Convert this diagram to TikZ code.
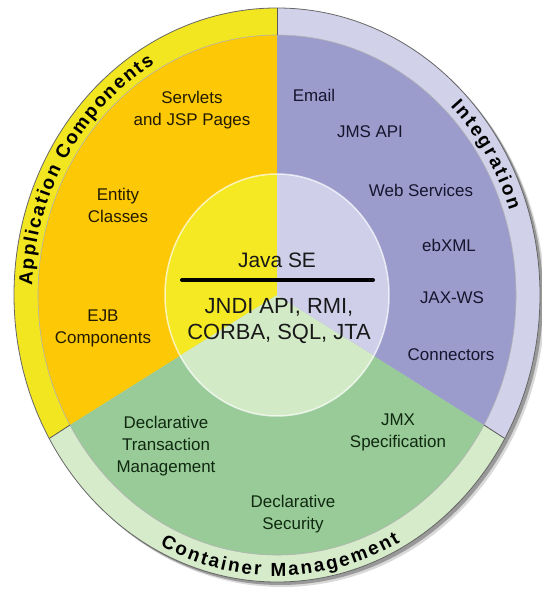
\documentclass[tikz,border=0pt]{standalone}
\usepackage{fontspec}
\setmainfont{Liberation Sans}
\usetikzlibrary{decorations.text}
\definecolor{ringY}{HTML}{F2E620}
\definecolor{secY}{HTML}{FDC805}
\definecolor{cenY}{HTML}{F4E922}
\definecolor{ringP}{HTML}{D1D1EA}
\definecolor{secP}{HTML}{9B9CCC}
\definecolor{cenP}{HTML}{CFCFEA}
\definecolor{ringG}{HTML}{D5EBCA}
\definecolor{secG}{HTML}{98CB98}
\definecolor{cenG}{HTML}{D3EAC6}
\definecolor{txtY}{HTML}{221B02}
\definecolor{txtP}{HTML}{15152E}
\definecolor{txtG}{HTML}{102810}
\newcommand\curvefont{\fontsize{19}{19}\selectfont\bfseries}
\tikzset{
  lbl/.style={align=center, font=\fontsize{17}{22}\selectfont, inner sep=0pt},
  lblY/.style={lbl, text=txtY},
  lblP/.style={lbl, text=txtP},
  lblG/.style={lbl, text=txtG},
  cen/.style={align=center, font=\fontsize{22}{27}\selectfont, inner sep=0pt, text=black!90},
  divider/.style={black!65, line width=0.8},
  curved/.style={decorate, decoration={text along path, text align=fit to path, text color=black, text={|\curvefont|#1}}}
}
\begin{document}
\begin{tikzpicture}[x=1bp,y=1bp]
\useasboundingbox (0,0) rectangle (542,589);
\coordinate (C) at (277,294);
% shadow
\fill[black!15] ([shift={(5,-5)}]C) ellipse [x radius=263, y radius=287];
\fill[black!40] ([shift={(3,-3)}]C) ellipse [x radius=263, y radius=287];
% outer ring
\fill[ringY] (C) -- ([shift={(90:263 and 287)}]C) arc[start angle=90,end angle=210,x radius=263,y radius=287] -- cycle;
\fill[ringG] (C) -- ([shift={(210:263 and 287)}]C) arc[start angle=210,end angle=330,x radius=263,y radius=287] -- cycle;
\fill[ringP] (C) -- ([shift={(330:263 and 287)}]C) arc[start angle=330,end angle=450,x radius=263,y radius=287] -- cycle;
% sectors
\fill[secY] (C) -- ([shift={(90:239 and 260)}]C) arc[start angle=90,end angle=210,x radius=239,y radius=260] -- cycle;
\fill[secG] (C) -- ([shift={(210:239 and 260)}]C) arc[start angle=210,end angle=330,x radius=239,y radius=260] -- cycle;
\fill[secP] (C) -- ([shift={(330:239 and 260)}]C) arc[start angle=330,end angle=450,x radius=239,y radius=260] -- cycle;
\draw[black!30, line width=0.6] (C) ellipse [x radius=239, y radius=260];
% centre
\fill[cenY] (C) -- ([shift={(90:112 and 121)}]C) arc[start angle=90,end angle=210,x radius=112,y radius=121] -- cycle;
\fill[cenG] (C) -- ([shift={(210:112 and 121)}]C) arc[start angle=210,end angle=330,x radius=112,y radius=121] -- cycle;
\fill[cenP] (C) -- ([shift={(330:112 and 121)}]C) arc[start angle=330,end angle=450,x radius=112,y radius=121] -- cycle;
\draw[white, opacity=0.7, line width=1.5] (C) ellipse [x radius=112, y radius=121];
% ring dividers and outline
\foreach \a in {90,210,330} {
  \coordinate (in\a) at ([shift={(\a:239 and 260)}]C);
  \coordinate (out\a) at ([shift={(\a:263 and 287)}]C);
  \draw[divider] (in\a) -- (out\a);
}
\draw[black!60, line width=0.8] (C) ellipse [x radius=263, y radius=287];
% curved labels
\path[curved={Application Components}] ([shift={(178:245 and 267)}]C) arc[start angle=178,end angle=120,x radius=245,y radius=267];
\path[curved={Integration}] ([shift={(45:245 and 267)}]C) arc[start angle=45,end angle=18.5,x radius=245,y radius=267];
\path[curved={Container Management}] ([shift={(243:258 and 281)}]C) arc[start angle=243,end angle=298.5,x radius=258,y radius=281];
% centre text
\node[cen, font=\fontsize{21}{25}\selectfont] (javase) at (277,329) {Java SE};
\coordinate (barL) at (182,309);
\coordinate (barR) at (373,309);
\draw[line width=4, line cap=round, black] (barL) -- (barR);
\node[cen] (apis) at (279,268) {JNDI API, RMI,\\CORBA, SQL, JTA};
% yellow sector
\node[lblY] (servlets) at (192,479) {Servlets\\and JSP Pages};
\node[lblY] (entity) at (118,384) {Entity\\Classes};
\node[lblY] (ejb) at (103,261) {EJB\\Components};
% purple sector
\node[lblP] (email) at (314,494) {Email};
\node[lblP] (jms) at (370,457) {JMS API};
\node[lblP] (ws) at (421,399) {Web Services};
\node[lblP] (ebxml) at (449,344) {ebXML};
\node[lblP] (jaxws) at (452,291) {JAX-WS};
\node[lblP] (conn) at (451,234) {Connectors};
% green sector
\node[lblG] (jmx) at (398,157) {JMX\\Specification};
\node[lblG] (dsec) at (293,75) {Declarative\\Security};
\node[lblG] (dtm) at (166,143) {Declarative\\Transaction\\Management};
\end{tikzpicture}
\end{document}
